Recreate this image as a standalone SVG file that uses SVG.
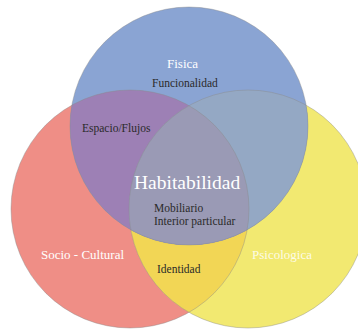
<svg xmlns="http://www.w3.org/2000/svg" width="358" height="329" viewBox="0 0 358 329">
  <defs>
    <clipPath id="clipRed"><circle cx="130" cy="209" r="119"/></clipPath>
    <clipPath id="clipYellow"><circle cx="248" cy="209" r="119"/></clipPath>
    <style>
      .edge { fill: none; stroke: #8a8a8a; stroke-width: 0.6; stroke-opacity: 0.7; }
      .lbl { font-family: "Liberation Serif", "Times New Roman", serif; }
      .dark { fill: #2a2a2a; font-size: 11.5px; }
      .light { fill: #ffffff; font-size: 13px; }
    </style>
  </defs>
  <rect width="358" height="329" fill="#ffffff"/>

  <g id="socio-cultural">
    <circle cx="130" cy="209" r="119" fill="#ef8e86"/>
  </g>
  <g id="psicologica">
    <circle cx="248" cy="209" r="119" fill="#f2e971"/>
    <g clip-path="url(#clipRed)">
      <circle cx="248" cy="209" r="119" fill="#f2d655"/>
    </g>
  </g>
  <g id="fisica">
    <circle cx="189" cy="126" r="119" fill="#8aa4d3"/>
    <g clip-path="url(#clipRed)">
      <circle cx="189" cy="126" r="119" fill="#9d80b5"/>
    </g>
    <g clip-path="url(#clipYellow)">
      <circle cx="189" cy="126" r="119" fill="#94a8c4"/>
      <g clip-path="url(#clipRed)">
        <circle cx="189" cy="126" r="119" fill="#9a9ab5"/>
      </g>
    </g>
  </g>
  <g id="edges">
    <circle class="edge" cx="130" cy="209" r="119"/>
    <circle class="edge" cx="248" cy="209" r="119"/>
    <circle class="edge" cx="189" cy="126" r="119"/>
  </g>

  <g id="labels" class="lbl">
    <text class="light" x="167" y="68">Fisica</text>
    <text class="dark" x="152" y="87">Funcionalidad</text>
    <text class="dark" x="82" y="132">Espacio/Flujos</text>
    <text class="light" x="134" y="189" style="font-size:19.5px">Habitabilidad</text>
    <text class="dark" x="154" y="212">Mobiliario</text>
    <text class="dark" x="154" y="225">Interior particular</text>
    <text class="light" x="41" y="259">Socio - Cultural</text>
    <text class="light" x="252" y="259" fill-opacity="0.85">Psicologica</text>
    <text class="dark" x="157" y="273">Identidad</text>
  </g>
</svg>
